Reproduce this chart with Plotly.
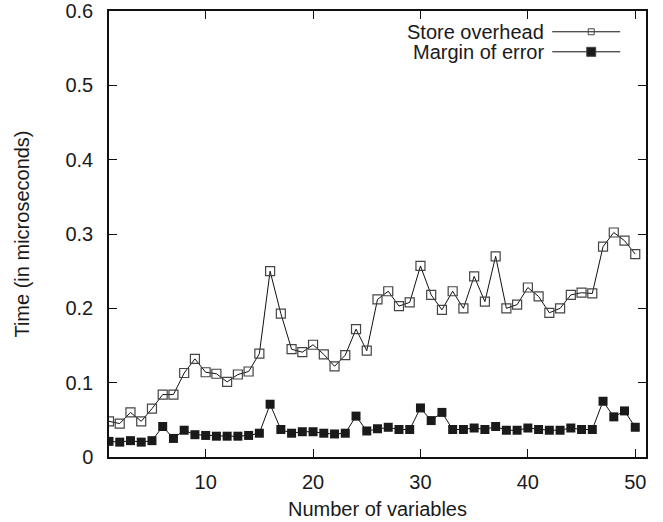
import plotly.graph_objects as go

variables = list(range(1, 51))
store_overhead = [
    0.048, 0.045, 0.060, 0.048, 0.065, 0.084, 0.084, 0.113, 0.132, 0.114,
    0.112, 0.101, 0.111, 0.115, 0.139, 0.250, 0.193, 0.145, 0.141, 0.151,
    0.138, 0.122, 0.137, 0.172, 0.143, 0.212, 0.223, 0.203, 0.208, 0.257,
    0.218, 0.198, 0.223, 0.200, 0.243, 0.209, 0.270, 0.200, 0.205, 0.228,
    0.216, 0.194, 0.200, 0.218, 0.221, 0.220, 0.283, 0.302, 0.291, 0.273,
]
margin_of_error = [
    0.021, 0.020, 0.022, 0.020, 0.022, 0.041, 0.025, 0.036, 0.030, 0.029,
    0.028, 0.028, 0.028, 0.029, 0.032, 0.071, 0.037, 0.032, 0.034, 0.034,
    0.032, 0.031, 0.032, 0.055, 0.035, 0.038, 0.040, 0.037, 0.037, 0.066,
    0.049, 0.060, 0.037, 0.037, 0.039, 0.037, 0.041, 0.036, 0.036, 0.039,
    0.037, 0.036, 0.036, 0.039, 0.037, 0.037, 0.075, 0.054, 0.062, 0.040,
]
series_names = ["Store overhead", "Margin of error"]
x_ticks = [10, 20, 30, 40, 50]
y_ticks = [0, 0.1, 0.2, 0.3, 0.4, 0.5, 0.6]
y_tick_labels = ["0", "0.1", "0.2", "0.3", "0.4", "0.5", "0.6"]

FONT = "Liberation Sans, Arial, Helvetica, sans-serif"
TXT = "#1a1a1a"
FS = 20

fig = go.Figure()
fig.add_trace(go.Scatter(
    x=variables, y=store_overhead, mode="lines+markers", name=series_names[0],
    line=dict(color="#111111", width=1),
    marker=dict(symbol="square-open", size=9, color="#444444", line=dict(width=1.2)),
    showlegend=False,
))
fig.add_trace(go.Scatter(
    x=variables, y=margin_of_error, mode="lines+markers", name=series_names[1],
    line=dict(color="#111111", width=1),
    marker=dict(symbol="square", size=9, color="#1a1a1a"),
    showlegend=False,
))

# custom legend (text on the left, sample on the right) on an overlay axis
leg_y = [0.9534, 0.9085]
for name, yy, sym, col, sz in [(series_names[0], leg_y[0], "square-open", "#444444", 6),
                               (series_names[1], leg_y[1], "square", "#1a1a1a", 9)]:
    fig.add_trace(go.Scatter(
        x=[0.8254, 0.952], y=[yy, yy], xaxis="x2", yaxis="y2", mode="lines",
        line=dict(color="#111111", width=1), showlegend=False, hoverinfo="skip"))
    fig.add_trace(go.Scatter(
        x=[0.898], y=[yy], xaxis="x2", yaxis="y2", mode="markers",
        marker=dict(symbol=sym, size=sz, color=col, line=dict(width=1)),
        showlegend=False, hoverinfo="skip"))
    fig.add_annotation(x=0.8136, y=yy, xref="x2", yref="y2", text=name,
                       showarrow=False, xanchor="right", yanchor="middle",
                       font=dict(family=FONT, size=FS, color=TXT))

fig.update_layout(
    width=663, height=522,
    margin=dict(l=109, r=17, t=11, b=65),
    paper_bgcolor="white", plot_bgcolor="white",
    font=dict(family=FONT, size=FS, color=TXT),
    xaxis=dict(
        range=[1, 51], tickvals=x_ticks, ticks="inside", ticklen=8,
        tickcolor="#111111", tickwidth=1, showline=True, linecolor="#111111",
        linewidth=1.5, mirror="ticks", showgrid=False, zeroline=False,
        automargin=False, ticklabeloverflow="allow",
        ticklabelstandoff=6, tickfont=dict(family=FONT, size=FS, color=TXT),
        title=dict(text="Number of variables", standoff=10,
                   font=dict(family=FONT, size=FS, color=TXT)),
    ),
    yaxis=dict(
        range=[0, 0.6], tickvals=y_ticks, ticktext=y_tick_labels, ticks="inside",
        ticklen=8, tickcolor="#111111", tickwidth=1, showline=True,
        linecolor="#111111", linewidth=1.5, mirror="ticks", showgrid=False,
        zeroline=False, ticklabelstandoff=10, automargin=False,
        ticklabeloverflow="allow",
        tickfont=dict(family=FONT, size=FS, color=TXT),
        title=dict(text="Time (in microseconds)", standoff=30,
                   font=dict(family=FONT, size=FS, color=TXT)),
    ),
    xaxis2=dict(range=[0, 1], overlaying="x", visible=False, fixedrange=True),
    yaxis2=dict(range=[0, 1], overlaying="y", visible=False, fixedrange=True),
)

fig.write_html("out.html")
